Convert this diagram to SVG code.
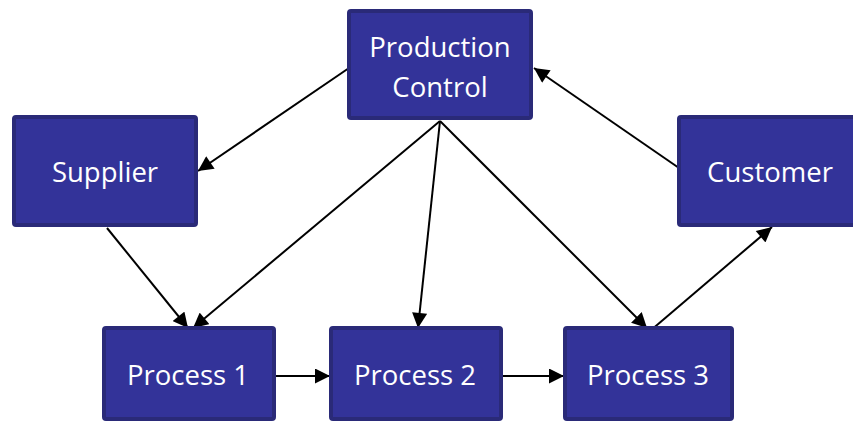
<svg xmlns="http://www.w3.org/2000/svg" width="853" height="422" viewBox="0 0 853 422">
  <style>
    .box { fill: #333399; stroke: #2a2a78; stroke-width: 4; }
    .lbl { fill: #ffffff; font-family: "Open Sans", "Liberation Sans", sans-serif; font-size: 27.5px; text-anchor: middle; }
    .edge { stroke: #000000; stroke-width: 2; fill: none; marker-end: url(#arrow); }
  </style>
  <defs>
    <marker id="arrow" viewBox="0 0 10 10" refX="10" refY="5" markerWidth="8" markerHeight="7.5" markerUnits="strokeWidth" orient="auto">
      <path d="M0,0 L10,5 L0,10 z" fill="#000000"/>
    </marker>
  </defs>

  <g id="connectors">
    <line class="edge" x1="349" y1="68" x2="198" y2="171"/>
    <line class="edge" x1="107" y1="228" x2="188" y2="328"/>
    <line class="edge" x1="440" y1="121" x2="193" y2="328"/>
    <line class="edge" x1="440" y1="121" x2="418" y2="328"/>
    <line class="edge" x1="440" y1="121" x2="647" y2="328"/>
    <line class="edge" x1="650" y1="331" x2="772" y2="227"/>
    <line class="edge" x1="679" y1="168" x2="534" y2="68"/>
    <line class="edge" x1="276" y1="376" x2="330" y2="376"/>
    <line class="edge" x1="502" y1="376" x2="564" y2="376"/>
  </g>

  <g id="production-control">
    <rect class="box" x="349" y="11" width="182" height="107" rx="2"/>
    <text class="lbl" x="440" y="57">Production</text>
    <text class="lbl" x="440" y="97">Control</text>
  </g>
  <g id="supplier">
    <rect class="box" x="14" y="117" width="182" height="108" rx="2"/>
    <text class="lbl" x="105" y="182">Supplier</text>
  </g>
  <g id="customer">
    <rect class="box" x="679" y="117" width="180" height="108" rx="2"/>
    <text class="lbl" x="770" y="182">Customer</text>
  </g>
  <g id="process-1">
    <rect class="box" x="104" y="328" width="170" height="91" rx="2"/>
    <text class="lbl" x="188" y="385">Process 1</text>
  </g>
  <g id="process-2">
    <rect class="box" x="331" y="328" width="170" height="91" rx="2"/>
    <text class="lbl" x="415" y="385">Process 2</text>
  </g>
  <g id="process-3">
    <rect class="box" x="565" y="328" width="167" height="91" rx="2"/>
    <text class="lbl" x="648" y="385">Process 3</text>
  </g>
</svg>
